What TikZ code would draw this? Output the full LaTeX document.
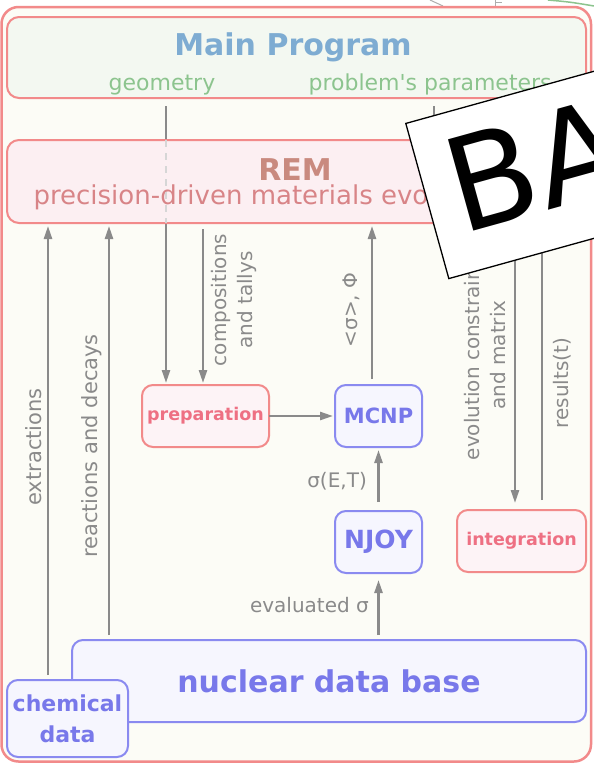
\documentclass[tikz,border=0pt]{standalone}
\usepackage{fontspec}
\setmainfont{DejaVu Sans}
\usetikzlibrary{arrows.meta,positioning,backgrounds}
\definecolor{framePink}{HTML}{F28A8A}
\definecolor{paperFill}{HTML}{FCFCF6}
\definecolor{mainFill}{HTML}{F3F8F1}
\definecolor{remFill}{HTML}{FCEFF2}
\definecolor{stepFill}{HTML}{FDF3F6}
\definecolor{dataFill}{HTML}{F6F6FE}
\definecolor{dataBlue}{HTML}{8A8AF0}
\definecolor{dataText}{HTML}{7878EA}
\definecolor{titleBlue}{HTML}{7EACD2}
\definecolor{paramGreen}{HTML}{8CC48E}
\definecolor{remBrown}{HTML}{C98A7F}
\definecolor{remRed}{HTML}{D88487}
\definecolor{stepRed}{HTML}{EE7083}
\definecolor{flowGray}{HTML}{8A8A8A}
\tikzset{
  outerframe/.style={draw=framePink, line width=2.5pt, fill=paperFill, rounded corners=17pt},
  bandbox/.style={draw=framePink, line width=2pt, rounded corners=12pt,
    minimum width=579pt, inner sep=0pt, outer sep=0pt},
  stepbox/.style={draw=framePink, fill=stepFill, line width=2pt, rounded corners=11pt,
    minimum height=62pt, inner sep=0pt, outer sep=0pt, text=stepRed,
    font=\fontsize{17.5}{20}\selectfont\bfseries},
  databox/.style={draw=dataBlue, fill=dataFill, line width=2pt, rounded corners=11pt,
    inner sep=0pt, outer sep=0pt, text=dataText},
  flowArc/.style={draw=flowGray, line width=2.4pt, -{Triangle[length=13pt,width=8pt]},
    shorten <=6pt, shorten >=3pt},
  flowLabel/.style={text=flowGray, inner sep=0pt, font=\fontsize{20}{26}\selectfont},
  stamp/.style={draw=black, fill=white, line width=1.3pt, minimum height=161pt,
    text width=300pt, inner xsep=24pt, inner ysep=0pt, text height=83pt, text depth=0pt,
    align=left, font=\fontsize{130}{130}\selectfont},
}

\begin{document}
\begin{tikzpicture}[x=1pt, y=-1pt]
  \useasboundingbox (0,0) rectangle (594,763);

  % boxes
  \node[bandbox, fill=mainFill, minimum height=81pt] (main) at (296.5,57.5) {};
  \node[text=titleBlue, font=\fontsize{30}{36}\selectfont\bfseries, anchor=base] (mainTitle) at (293,55) {Main Program};
  \node[text=paramGreen, font=\fontsize{22}{26}\selectfont, anchor=base] (geo) at (162,90) {geometry};
  \node[text=paramGreen, font=\fontsize{22}{26}\selectfont, anchor=base west] (params) at (305,90) {problem\textquotesingle s parameters};

  \node[stepbox, minimum width=127pt] (prep) at (205.5,416) {preparation};
  \node[databox, minimum width=87pt, minimum height=62pt, font=\fontsize{21}{24}\selectfont\bfseries] (mcnp) at (378.5,416) {MCNP};
  \node[databox, minimum width=87pt, minimum height=62pt, font=\fontsize{25}{28}\selectfont\bfseries] (njoy) at (378.5,542) {NJOY};
  \node[stepbox, minimum width=129pt] (integ) at (521.5,541) {integration};
  \node[databox, minimum width=514pt, minimum height=82pt, font=\fontsize{30}{36}\selectfont\bfseries] (nuc) at (329,681) {nuclear data base};
  \node[databox, minimum width=121pt, minimum height=77pt, align=center, font=\fontsize{22}{31}\selectfont\bfseries] (chem) at (67.5,718.5) {chemical\\data};

  \node[bandbox, fill=remFill, minimum height=83pt] (rem) at (296.5,181.5) {};
  \node[text=remBrown, font=\fontsize{30}{36}\selectfont\bfseries, anchor=base] (remTitle) at (295,180) {REM};
  \node[text=remRed, font=\fontsize{26}{30}\selectfont, anchor=base west] (remSub) at (30,204) {precision-driven materials evolution};

  \begin{scope}[on background layer]
    \fill[white] (0,0) rectangle (594,763);
    \draw[flowGray!70, line width=1pt] (430,0) -- (443,6);
    \draw[flowGray!70, line width=1pt] (495,0) -- (495,6) (495,2) -- (502,2);
    \draw[paramGreen, line width=1.5pt] (548,0) .. controls (570,2) .. (594,6);
    \draw[outerframe] (1.5,7) rectangle (591,761.5);
    % inputs from the main program run under REM
    \draw[flowArc, shorten <=8pt, shorten >=2pt] (166,0 |- main.south) -- (166,0 |- prep.north);
    \draw[draw=flowGray, line width=2.4pt, shorten <=8pt] (434,0 |- main.south) -- (434,0 |- rem.north);
  \end{scope}
  \draw[flowGray!35, line width=2pt, dash pattern=on 7pt off 6pt] (166,0 |- rem.north) -- (166,0 |- rem.south);

  % connectors
  \draw[flowArc, shorten <=5pt] (48,0 |- chem.north) -- (48,0 |- rem.south);
  \draw[flowArc, shorten <=5pt] (109,0 |- nuc.north) -- (109,0 |- rem.south);
  \draw[flowArc, shorten >=2pt] (203,0 |- rem.south) -- (203,0 |- prep.north);
  \draw[flowArc, shorten <=0pt, shorten >=2pt] (prep.east) -- (mcnp.west);
  \draw[flowArc] (372,0 |- mcnp.north) -- (372,0 |- rem.south);
  \draw[flowArc, shorten <=9pt] (njoy.north) -- (mcnp.south);
  \draw[flowArc, shorten <=5pt, shorten >=7pt] (njoy.south |- nuc.north) -- (njoy.south);
  \draw[flowArc, shorten >=7pt] (515,0 |- rem.south) -- (515,0 |- integ.north);
  \draw[flowArc, shorten <=10pt] (542,0 |- integ.north) -- (542,0 |- rem.south);

  % connector labels
  \node[flowLabel, rotate=90, font=\fontsize{21}{26}\selectfont] (extrLbl) at (34,447) {extractions};
  \node[flowLabel, rotate=90, font=\fontsize{21}{26}\selectfont] (reacLbl) at (92,446) {reactions and decays};
  \node[flowLabel, rotate=90, align=center] (compLbl) at (234,300) {compositions\\and tallys};
  \node[flowLabel, rotate=90] (fluxLbl) at (351,310) {<σ>, Φ};
  \node[flowLabel, anchor=east] (xsLbl) at (367,481) {σ(E,T)};
  \node[flowLabel, anchor=east] (evalLbl) at (369,605) {evaluated σ};
  \node[flowLabel, rotate=90, align=center] (evolLbl) at (485,355) {evolution constraints\\and matrix};
  \node[flowLabel, rotate=90] (resLbl) at (562,383) {results(t)};

  % sticker on top
  \node[stamp, rotate=15.5, anchor=north west] (sticker) at (405,123) {BA};
\end{tikzpicture}
\end{document}
